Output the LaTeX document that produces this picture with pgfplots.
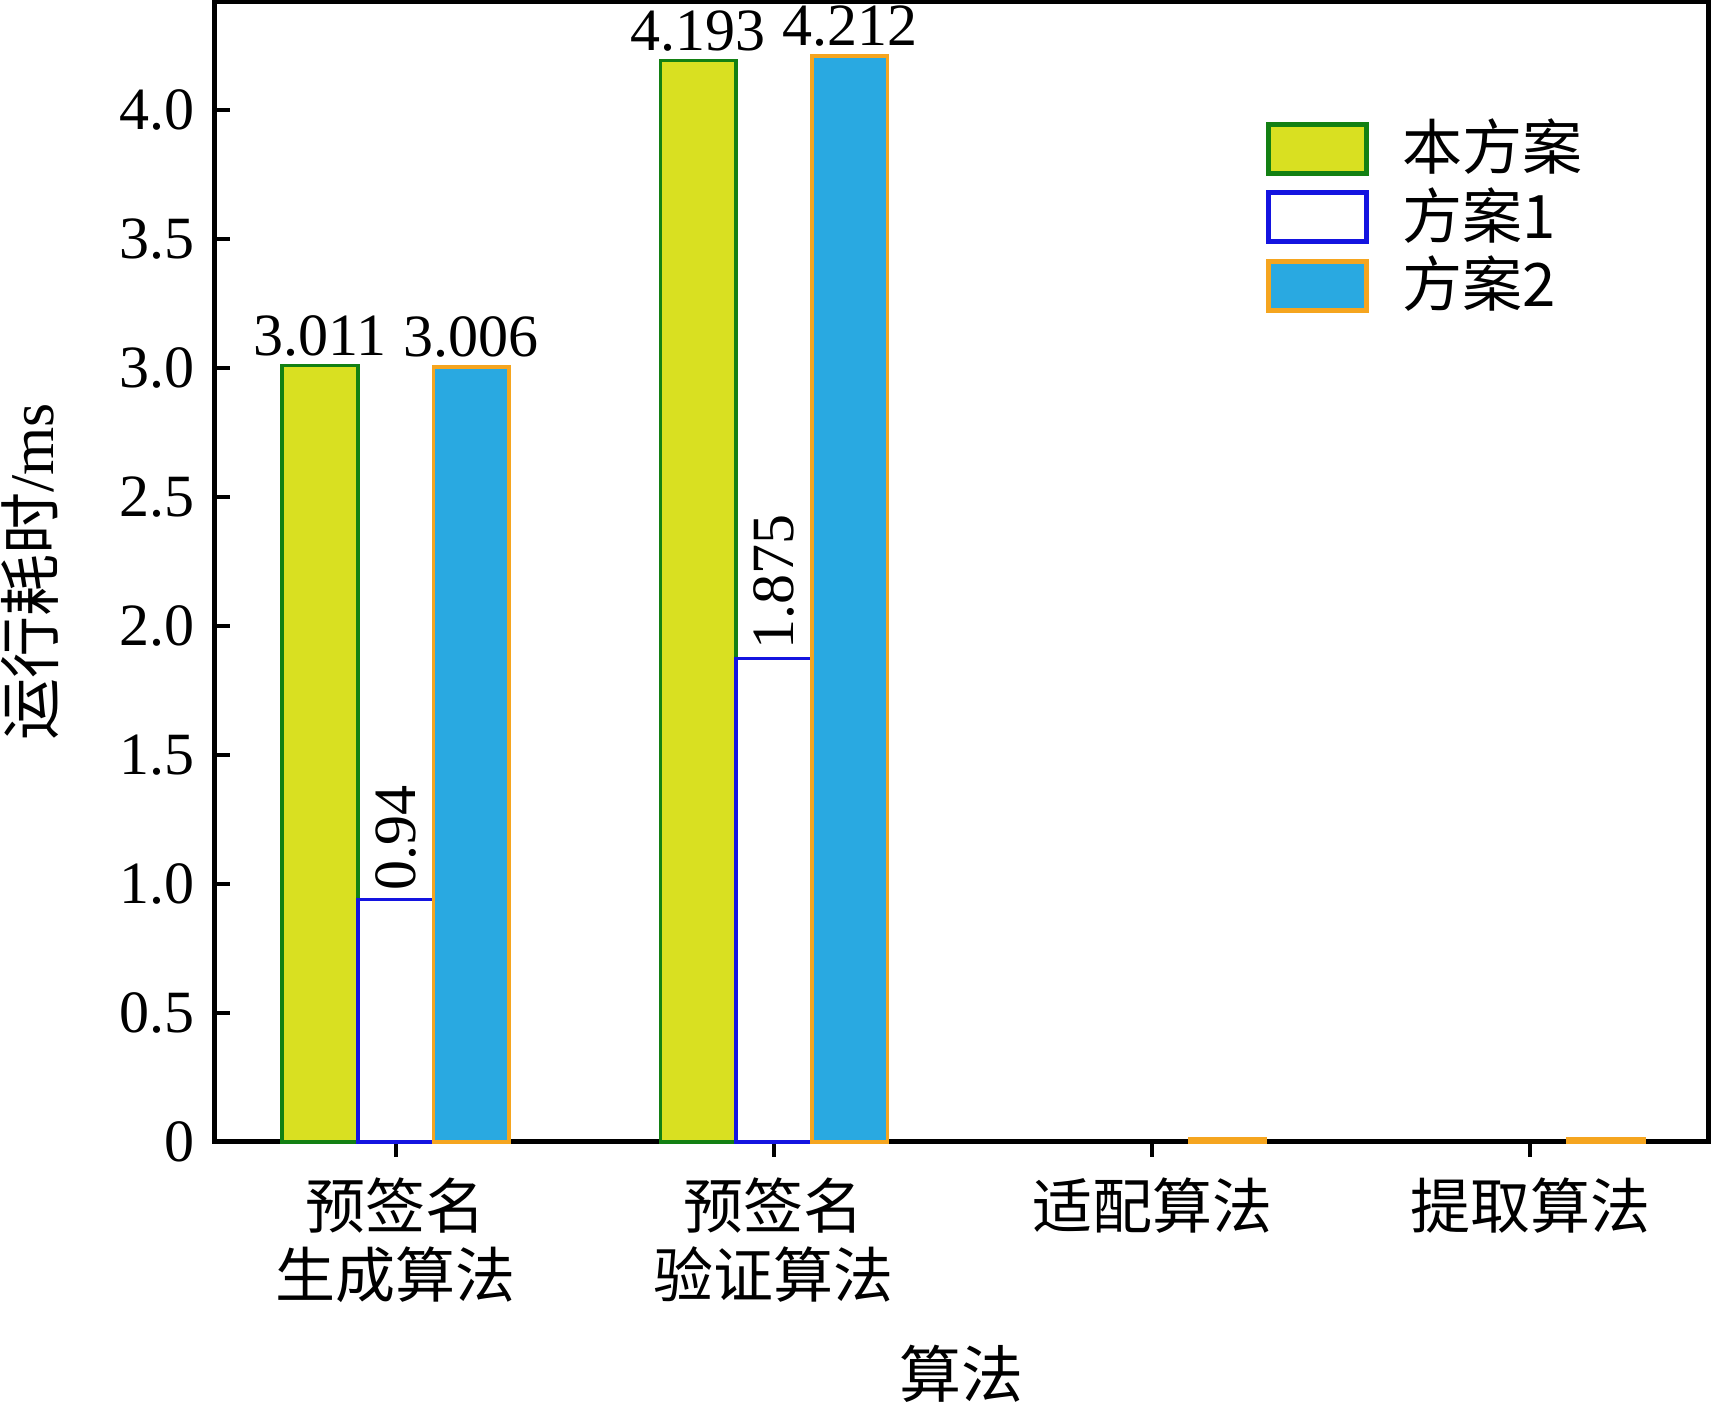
\documentclass[border=0pt]{standalone}
\usepackage{pgfplots}
\pgfplotsset{compat=1.18}
\usepackage{fontspec}
\setmainfont{Liberation Serif}
\newfontfamily\cjk{Noto Sans CJK SC}
\definecolor{cA}{HTML}{D9E021}
\definecolor{cAe}{HTML}{138013}
\definecolor{cBe}{HTML}{1414E0}
\definecolor{cC}{HTML}{29A9E1}
\definecolor{cCe}{HTML}{F5A51F}
\begin{document}
\fontsize{11.8}{14}\selectfont
\begin{tikzpicture}
\useasboundingbox (-43pt,-52.2pt) rectangle (299.6pt,228.4pt);
\begin{axis}[
  at={(0pt,0pt)}, anchor=south west,
  scale only axis,
  width=298.6pt, height=228pt,
  xmin=-0.478, xmax=3.47,
  ymin=0, ymax=4.42,
  axis line style={line width=1pt},
  tick style={black, line width=0.8pt},
  tick align=inside,
  xtick pos=bottom, ytick pos=left,
  major tick length=3pt,
  xtick={0,1,2,3},
  xticklabels={{\cjk 预签名\\\cjk 生成算法},{\cjk 预签名\\\cjk 验证算法},{\cjk 适配算法},{\cjk 提取算法}},
  xticklabel style={align=center, font=\fontsize{12}{13.8}\selectfont},
  ytick={0,0.5,1,1.5,2,2.5,3,3.5,4},
  yticklabels={0,0.5,1.0,1.5,2.0,2.5,3.0,3.5,4.0},
  yticklabel style={font=\fontsize{12}{14}\selectfont},
  xlabel={\cjk 算法},
  ylabel={\cjk 运行耗时\rmfamily/ms},
  label style={font=\fontsize{12.4}{14}\selectfont},
  xlabel style={at={(axis description cs:0.5,-0.203)}, anchor=center},
  ylabel style={at={(axis description cs:-0.124,0.5)}, anchor=center, rotate=0},
  ybar, bar width=0.2,
  point meta=explicit symbolic,
  nodes near coords,
  nodes near coords style={font=\fontsize{12}{14}\selectfont, inner sep=1.5pt},
  legend style={draw=none, fill=none, at={(0.703,0.907)}, anchor=north west,
    font=\cjk\fontsize{12}{14}\selectfont, row sep=-2.2pt, inner sep=0pt},
  legend cell align=left,
  legend image code/.code={\draw[#1, line width=1pt] (0pt,-4.9pt) rectangle (19.7pt,4.9pt); \path (24.5pt,0pt);},
  clip=false,
]
\addplot[bar shift=-0.2, fill=cA, draw=cAe, line width=0.75pt] coordinates {(0,3.011) [3.011] (1,4.193) [4.193]};
\addplot[bar shift=0, fill=white, draw=cBe, line width=0.75pt,
  nodes near coords style={rotate=90, anchor=west}] coordinates {(0,0.94) [0.94] (1,1.875) [1.875]};
\addplot[bar shift=0.2, fill=cC, draw=cCe, line width=0.75pt] coordinates {(0,3.006) [3.006] (1,4.212) [4.212] (2,0.012) [] (3,0.012) []};
\legend{本方案,方案1,方案2}
\end{axis}
\end{tikzpicture}
\end{document}
